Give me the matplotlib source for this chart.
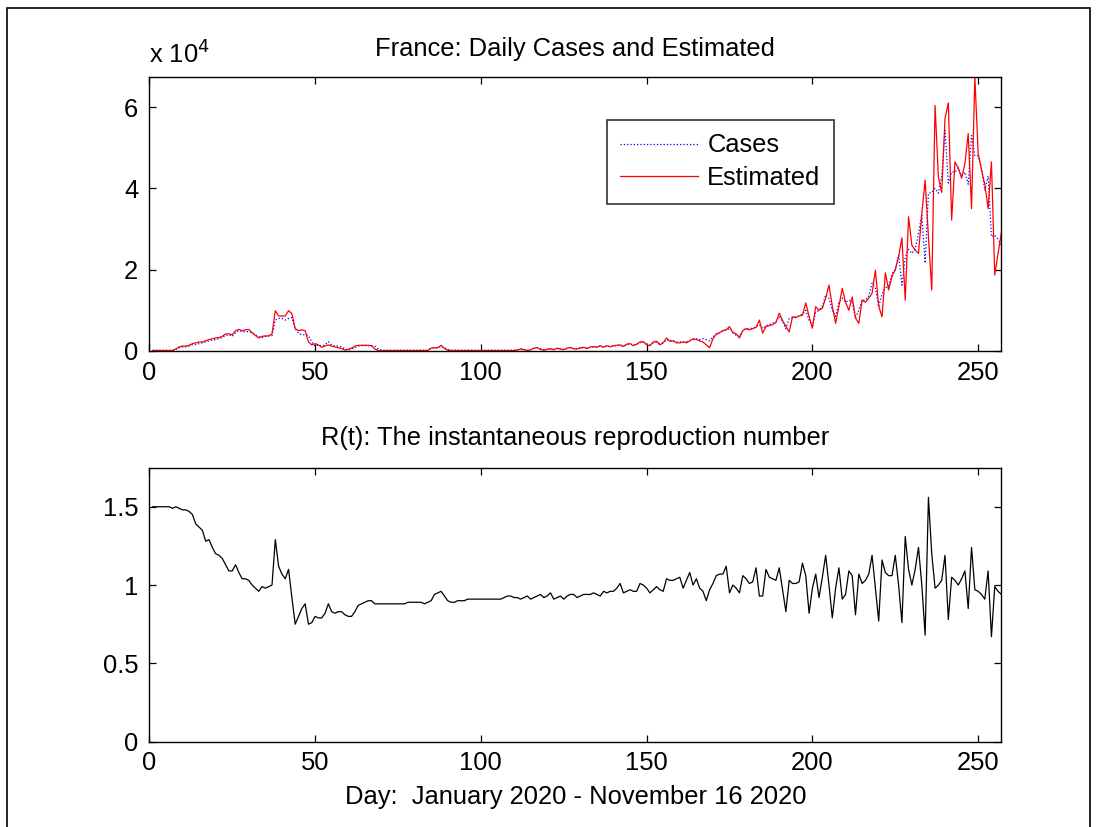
import numpy as np
import matplotlib
matplotlib.use("Agg")
import matplotlib.pyplot as plt
from matplotlib.patches import Rectangle

plt.rcParams["font.family"] = ["Liberation Sans", "DejaVu Sans"]

# daily cases and model estimate, in units of 1e4, days 1..257
cases_1e4 = [
    0.02, 0.02, 0.02, 0.02, 0.02, 0.02, 0.02, 0.04, 0.08, 0.10,
    0.10, 0.12, 0.15, 0.16, 0.18, 0.20, 0.22, 0.25, 0.27, 0.28,
    0.30, 0.33, 0.38, 0.40, 0.36, 0.45, 0.50, 0.48, 0.47, 0.48,
    0.45, 0.40, 0.35, 0.33, 0.36, 0.37, 0.38, 0.76, 0.80, 0.80,
    0.76, 0.80, 0.82, 0.55, 0.43, 0.40, 0.40, 0.38, 0.22, 0.12,
    0.15, 0.12, 0.15, 0.23, 0.15, 0.12, 0.12, 0.10, 0.05, 0.02,
    0.05, 0.08, 0.12, 0.13, 0.13, 0.13, 0.13, 0.12, 0.05, 0.02,
    0.02, 0.02, 0.02, 0.02, 0.02, 0.02, 0.02, 0.02, 0.02, 0.02,
    0.02, 0.02, 0.02, 0.02, 0.06, 0.08, 0.08, 0.12, 0.08, 0.04,
    0.02, 0.02, 0.02, 0.02, 0.02, 0.02, 0.02, 0.02, 0.02, 0.02,
    0.02, 0.02, 0.02, 0.02, 0.02, 0.02, 0.02, 0.02, 0.02, 0.02,
    0.03, 0.05, 0.04, 0.02, 0.03, 0.06, 0.08, 0.05, 0.03, 0.04,
    0.05, 0.04, 0.06, 0.05, 0.04, 0.06, 0.08, 0.06, 0.05, 0.07,
    0.08, 0.07, 0.09, 0.10, 0.10, 0.12, 0.10, 0.12, 0.11, 0.12,
    0.13, 0.14, 0.12, 0.15, 0.17, 0.15, 0.16, 0.20, 0.22, 0.18,
    0.15, 0.20, 0.22, 0.18, 0.20, 0.28, 0.25, 0.25, 0.22, 0.22,
    0.22, 0.23, 0.25, 0.28, 0.30, 0.28, 0.30, 0.28, 0.25, 0.35,
    0.40, 0.45, 0.50, 0.52, 0.55, 0.48, 0.38, 0.36, 0.50, 0.55,
    0.55, 0.56, 0.60, 0.65, 0.55, 0.62, 0.65, 0.68, 0.72, 0.85,
    0.72, 0.55, 0.80, 0.82, 0.84, 0.86, 0.90, 1.00, 0.75, 0.62,
    0.95, 1.00, 1.10, 1.38, 1.30, 1.00, 0.85, 1.20, 1.30, 1.20,
    1.25, 1.20, 0.81, 1.00, 1.25, 1.25, 1.35, 1.67, 1.55, 1.09,
    1.40, 1.55, 1.60, 1.90, 2.00, 2.36, 1.62, 2.30, 2.50, 2.40,
    2.50, 2.90, 3.35, 2.16, 3.88, 3.90, 4.00, 3.88, 4.30, 5.43,
    4.13, 4.40, 4.40, 4.50, 4.30, 4.40, 4.10, 5.30, 4.80, 4.80,
    4.50, 3.95, 4.30, 2.81, 2.85, 2.75, 2.60,
]

estimated_1e4 = [
    0.01, 0.01, 0.01, 0.01, 0.01, 0.01, 0.01, 0.05, 0.10, 0.12,
    0.12, 0.14, 0.18, 0.20, 0.22, 0.22, 0.25, 0.28, 0.30, 0.32,
    0.33, 0.36, 0.42, 0.42, 0.40, 0.50, 0.53, 0.50, 0.52, 0.53,
    0.45, 0.38, 0.32, 0.36, 0.37, 0.37, 0.42, 0.99, 0.86, 0.86,
    0.86, 0.99, 0.92, 0.55, 0.50, 0.52, 0.50, 0.22, 0.15, 0.18,
    0.15, 0.09, 0.12, 0.15, 0.12, 0.10, 0.08, 0.06, 0.02, 0.04,
    0.07, 0.12, 0.14, 0.14, 0.14, 0.14, 0.13, 0.05, 0.01, 0.01,
    0.01, 0.01, 0.01, 0.01, 0.01, 0.01, 0.01, 0.01, 0.01, 0.01,
    0.01, 0.01, 0.01, 0.01, 0.07, 0.08, 0.08, 0.14, 0.06, 0.02,
    0.01, 0.01, 0.01, 0.01, 0.01, 0.01, 0.01, 0.01, 0.01, 0.01,
    0.01, 0.01, 0.01, 0.01, 0.01, 0.01, 0.01, 0.01, 0.01, 0.01,
    0.02, 0.05, 0.03, 0.01, 0.03, 0.07, 0.08, 0.04, 0.02, 0.04,
    0.06, 0.03, 0.07, 0.05, 0.03, 0.07, 0.09, 0.05, 0.05, 0.08,
    0.09, 0.06, 0.10, 0.11, 0.09, 0.13, 0.09, 0.13, 0.10, 0.13,
    0.14, 0.15, 0.11, 0.17, 0.18, 0.13, 0.17, 0.22, 0.23, 0.15,
    0.13, 0.22, 0.24, 0.15, 0.20, 0.32, 0.24, 0.25, 0.20, 0.20,
    0.22, 0.20, 0.25, 0.30, 0.28, 0.25, 0.22, 0.15, 0.08, 0.30,
    0.42, 0.45, 0.50, 0.52, 0.60, 0.45, 0.42, 0.32, 0.50, 0.55,
    0.52, 0.55, 0.58, 0.76, 0.44, 0.60, 0.62, 0.65, 0.70, 0.93,
    0.75, 0.60, 0.47, 0.84, 0.82, 0.86, 0.88, 1.18, 0.85, 0.56,
    1.09, 1.00, 1.05, 1.30, 1.62, 1.10, 0.68, 1.10, 1.54, 1.20,
    1.00, 1.33, 0.81, 0.68, 1.25, 1.20, 1.30, 1.42, 1.99, 1.10,
    0.84, 1.92, 1.50, 1.83, 2.00, 2.32, 2.78, 1.25, 3.30, 2.60,
    2.48, 2.40, 3.38, 4.20, 2.80, 1.50, 6.04, 4.28, 3.90, 5.72,
    6.10, 3.22, 4.65, 4.50, 4.25, 4.60, 5.35, 3.50, 6.74, 4.86,
    4.45, 4.10, 3.50, 4.65, 1.87, 2.40, 2.90,
]

# instantaneous reproduction number R(t)
r_t = [
    1.50, 1.50, 1.50, 1.50, 1.50, 1.50, 1.49, 1.50, 1.49, 1.48,
    1.48, 1.47, 1.45, 1.39, 1.37, 1.35, 1.28, 1.29, 1.24, 1.20,
    1.19, 1.17, 1.13, 1.09, 1.09, 1.13, 1.08, 1.04, 1.04, 1.03,
    1.00, 0.98, 0.96, 0.99, 0.98, 0.99, 1.00, 1.29, 1.12, 1.07,
    1.04, 1.10, 0.92, 0.75, 0.80, 0.85, 0.88, 0.75, 0.76, 0.80,
    0.79, 0.79, 0.82, 0.88, 0.83, 0.82, 0.83, 0.83, 0.81, 0.80,
    0.80, 0.83, 0.87, 0.88, 0.89, 0.90, 0.90, 0.88, 0.88, 0.88,
    0.88, 0.88, 0.88, 0.88, 0.88, 0.88, 0.88, 0.89, 0.89, 0.89,
    0.89, 0.89, 0.88, 0.89, 0.90, 0.94, 0.95, 0.96, 0.93, 0.90,
    0.89, 0.89, 0.90, 0.90, 0.90, 0.91, 0.91, 0.91, 0.91, 0.91,
    0.91, 0.91, 0.91, 0.91, 0.91, 0.91, 0.92, 0.93, 0.93, 0.92,
    0.92, 0.91, 0.92, 0.93, 0.91, 0.92, 0.93, 0.94, 0.92, 0.93,
    0.95, 0.91, 0.92, 0.93, 0.91, 0.93, 0.94, 0.94, 0.92, 0.93,
    0.94, 0.94, 0.94, 0.95, 0.94, 0.93, 0.96, 0.95, 0.96, 0.96,
    0.98, 1.01, 0.95, 0.96, 0.97, 0.96, 0.96, 1.01, 1.00, 0.98,
    0.95, 0.97, 0.99, 0.97, 0.96, 1.04, 1.03, 1.03, 1.04, 1.05,
    0.98, 1.03, 1.08, 1.00, 1.04, 0.98, 0.96, 0.90, 0.97, 1.01,
    1.06, 1.07, 1.07, 1.12, 0.95, 1.00, 0.98, 0.95, 1.06, 1.04,
    1.01, 1.02, 1.11, 0.93, 0.93, 1.10, 1.05, 1.04, 1.03, 1.11,
    0.97, 0.83, 1.03, 1.01, 1.01, 1.02, 1.14, 1.06, 0.82, 0.98,
    1.07, 0.92, 1.05, 1.19, 1.00, 0.79, 0.98, 1.11, 0.91, 0.94,
    1.09, 1.06, 0.81, 1.07, 1.01, 1.03, 1.07, 1.19, 0.98, 0.77,
    1.16, 1.08, 1.06, 1.06, 1.19, 1.00, 0.76, 1.31, 1.10, 1.00,
    1.10, 1.24, 1.00, 0.68, 1.56, 1.20, 0.98, 1.00, 1.03, 1.19,
    0.78, 1.05, 1.03, 1.00, 1.04, 1.09, 0.85, 1.24, 0.97, 0.96,
    0.94, 0.91, 1.09, 0.67, 0.99, 0.96, 0.94,
]

days = np.arange(1, len(cases_1e4) + 1)
x_ticks = [0, 50, 100, 150, 200, 250]
FS = 18.4


def matlab_axes(ax):
    ax.tick_params(direction="in", length=5, width=0.9, top=True, right=True,
                   labelsize=FS)
    ax.tick_params(axis="y", pad=8)
    ax.tick_params(axis="x", pad=7)
    for s in ax.spines.values():
        s.set_linewidth(1.0)
    ax.set_xticks(x_ticks)


fig = plt.figure(figsize=(10.98, 8.27), dpi=100)

# figure frame
fig.patches.append(Rectangle((7 / 1098, -0.05), 1083 / 1098, 1.05 - 8 / 827,
                             transform=fig.transFigure, fill=False,
                             edgecolor="black", linewidth=1.2))

ax1 = fig.add_axes([0.136, 0.5756, 0.776, 0.3314])
ax1.plot(days, cases_1e4, color="blue", linestyle=":", linewidth=0.9, label="Cases")
ax1.plot(days, estimated_1e4, color="red", linewidth=0.9, label="Estimated")
ax1.set_xlim(0, 257)
ax1.set_ylim(0, max(estimated_1e4))
ax1.set_yticks([0, 2, 4, 6])
matlab_axes(ax1)
ax1.set_title("France: Daily Cases and Estimated", fontsize=FS, pad=15)
ax1.text(0, 1.051, r"x 10$^{4}$", transform=ax1.transAxes, fontsize=FS,
         ha="left", va="baseline")
leg = ax1.legend(loc="upper left", bbox_to_anchor=(0.537, 0.843), borderaxespad=0,
                 fontsize=FS, frameon=True, fancybox=False, handlelength=3.05,
                 labelspacing=0.35, borderpad=0.53, handletextpad=0.35)
leg.get_frame().set_edgecolor("black")
leg.get_frame().set_linewidth(1.2)

ax2 = fig.add_axes([0.136, 0.1032, 0.776, 0.3314])
ax2.plot(days, r_t, color="black", linewidth=0.9)
ax2.set_xlim(0, 257)
ax2.set_ylim(0, 1.75)
ax2.set_yticks([0, 0.5, 1, 1.5])
ax2.set_yticklabels(["0", "0.5", "1", "1.5"])
matlab_axes(ax2)
ax2.set_title("R(t): The instantaneous reproduction number", fontsize=FS, pad=16)
ax2.set_xlabel("Day:  January 2020 - November 16 2020", fontsize=FS, labelpad=7)

fig.savefig("out.png", dpi=100)
